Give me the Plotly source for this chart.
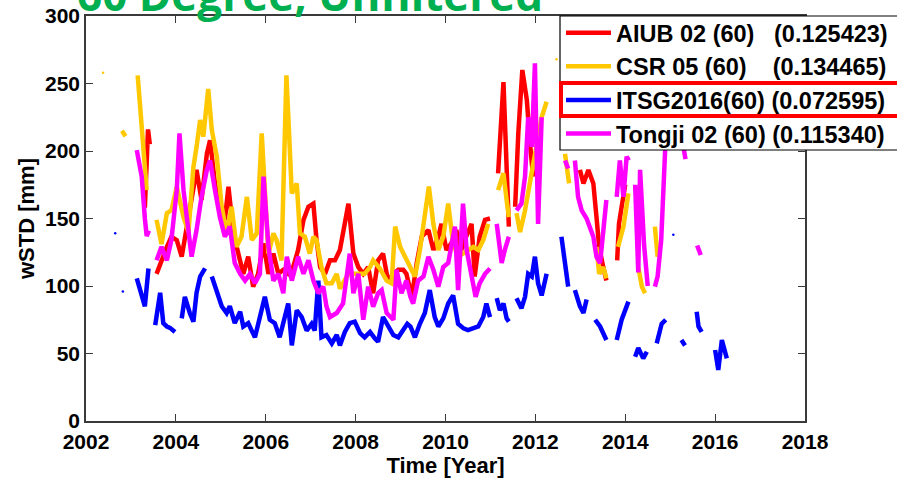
import plotly.graph_objects as go

# ---------------- data (decimal year, wSTD in mm); None marks a data gap ----------------
aiub_t = [2003.31, 2003.38, 2003.42, None,
          2003.57, 2003.68, 2003.80, 2003.90, 2004.02, 2004.13, 2004.24, 2004.35, 2004.46, 2004.57,
          2004.69, 2004.76, 2004.87, 2004.98, 2005.09, 2005.17, 2005.28, 2005.39, 2005.50, 2005.61,
          2005.72, 2005.83, 2005.95, 2006.06, 2006.17, 2006.28, 2006.39, 2006.50, 2006.61, 2006.72,
          2006.84, 2006.95, 2007.06, 2007.13, 2007.21, 2007.32, 2007.43, 2007.54, 2007.65, 2007.84,
          2007.95, 2008.06, 2008.17, 2008.28, 2008.39, 2008.50, 2008.61, 2008.72, 2008.84, 2008.95,
          2009.06, 2009.13, 2009.25, 2009.36, 2009.47, 2009.62, 2009.73, 2009.84, 2009.91, 2010.02,
          2010.13, 2010.24, 2010.35, 2010.46, 2010.58, 2010.65, 2010.76, 2010.88, 2010.99, None,
          2011.17, 2011.29, 2011.36, 2011.41, None,
          2011.55, 2011.62, 2011.71, 2011.81, 2011.88, 2011.95, None,
          2012.99, 2013.07, 2013.18, 2013.29, 2013.36, 2013.42, 2013.51, 2013.58, None,
          2013.82, 2013.86, 2013.92, 2014.00]
aiub_v = [158, 216, 205, None,
          109, 119, 129, 136.5, 134, 121.7, 144, 166, 186, 163.7,
          198, 208, 176, 158.7, 149, 173.6, 139, 124, 109, 121.7,
          99.5, 109, 131.6, 109, 124, 109, 112, 109, 114, 126.7,
          149, 158.7, 161, 134, 114, 109, 119, 119, 126.7, 161,
          124, 114, 109, 114, 94.6, 119, 124, 104, 109, 112,
          112, 109, 92, 117, 136.5, 141.5, 126.7, 136.5, 146, 126.7,
          131.6, 141.5, 126.7, 136.5, 146, 107, 136.5, 149, 150, None,
          183.5, 251, 188, 144, None,
          158.7, 213, 260, 237.8, 205.7, 181, None,
          186, 176, 186, 176, 151, 129, 114, 104, None,
          119, 146, 158.7, 175]

csr_t = [2002.80, 2002.88, None,
         2003.15, 2003.24, 2003.31, 2003.35, None,
         2003.57, 2003.68, 2003.80, 2003.90, 2004.02, 2004.17, 2004.28, 2004.39, 2004.46, 2004.54,
         2004.61, 2004.72, 2004.80, 2004.91, 2005.02, 2005.13, 2005.24, 2005.35, 2005.46, 2005.58,
         2005.69, 2005.80, 2005.91, 2005.98, 2006.06, 2006.17, 2006.24, 2006.35, 2006.46, 2006.58,
         2006.69, 2006.76, 2006.87, 2006.98, 2007.06, 2007.13, 2007.24, 2007.35, 2007.47, 2007.58,
         2007.65, 2007.84, 2008.02, 2008.20, 2008.32, 2008.39, 2008.54, 2008.69, 2008.80, 2008.88,
         2008.99, 2009.13, 2009.20, 2009.32, 2009.43, 2009.54, 2009.63, 2009.73, 2009.84, 2009.95,
         2010.06, 2010.17, 2010.28, 2010.39, 2010.50, 2010.62, 2010.73, 2010.84, 2010.95, None,
         2011.17, 2011.29, 2011.36, 2011.41, None,
         2011.58, 2011.66, 2011.77, 2011.84, 2011.95, 2012.06, 2012.14, 2012.25, None,
         2012.66, 2012.75, None,
         2013.36, 2013.42, 2013.51, 2013.58, None,
         2013.84, 2013.96, 2014.07, None,
         2014.29, 2014.37, 2014.44, None,
         2014.66, 2014.72]
csr_v = [215, 211, None,
         256, 218, 186, 171, None,
         149, 131, 154, 156, 173.6, 151, 140, 188, 203, 223,
         210.6, 246, 215.6, 195.8, 158.7, 139, 158.7, 129, 136.5, 166,
         134, 139, 213, 163.7, 124, 139, 134, 119, 256, 168.6,
         176, 139, 136.5, 124, 136.5, 134, 114, 102, 102, 109,
         98, 109, 109, 109, 114, 119, 113, 104, 102, 144,
         129, 119, 114, 107, 126.7, 151, 173.6, 146, 126.7, 136.5,
         161, 131.6, 121.7, 124, 126.7, 129, 126.7, 134, 146, None,
         171, 183.5, 163.7, 151, None,
         154, 140, 156, 171, 190, 210, 225, 236.5, None,
         198, 176, None,
         129, 109, 114, 105.6, None,
         129, 144, 168.6, None,
         114, 99.5, 94.6, None,
         144, 121.7]

itsg_t = [2003.13, 2003.20, 2003.31, 2003.39, None,
          2003.54, 2003.65, 2003.72, 2003.80, 2003.87, 2003.98, None,
          2004.13, 2004.20, 2004.31, 2004.39, 2004.46, 2004.54, 2004.65, None,
          2004.80, 2004.91, 2005.02, 2005.13, 2005.20, 2005.31, 2005.43, 2005.50, 2005.61, 2005.70,
          2005.76, 2005.87, 2005.98, 2006.09, 2006.20, 2006.31, 2006.43, 2006.50, 2006.58, 2006.69,
          2006.80, 2006.91, 2007.02, 2007.09, 2007.17, 2007.24, 2007.35, 2007.47, 2007.58, 2007.65,
          2007.76, 2007.87, 2007.98, 2008.10, 2008.20, 2008.32, 2008.43, 2008.50, 2008.61, 2008.73,
          2008.84, 2008.95, 2009.06, 2009.15, 2009.22, 2009.32, 2009.43, 2009.54, 2009.65, 2009.76,
          2009.84, 2009.95, 2010.06, 2010.17, 2010.28, 2010.40, 2010.50, 2010.62, 2010.73, 2010.84,
          2010.91, 2010.99, None,
          2011.14, 2011.21, 2011.29, 2011.36, 2011.41, None,
          2011.58, 2011.69, 2011.77, 2011.84, 2011.92, 2011.99, 2012.06, 2012.14, 2012.25, None,
          2012.58, 2012.66, 2012.73, None,
          2012.88, 2012.99, 2013.07, 2013.14, None,
          2013.33, 2013.44, 2013.58, None,
          2013.81, 2013.92, 2014.07, None,
          2014.22, 2014.29, 2014.40, 2014.48, None,
          2014.70, 2014.81, 2014.90, None,
          2015.25, 2015.33, None,
          2015.59, 2015.63, 2015.70, None,
          2016.00, 2016.07, 2016.15, 2016.26]
itsg_v = [105.7, 97, 85, 113, None,
          71, 95, 72.5, 70, 69, 66, None,
          76, 92, 80, 73.6, 95, 107, 113, None,
          107, 97, 85, 80, 85, 72.5, 81, 70, 72.5, 66,
          62, 77, 92, 75, 72.5, 62, 80, 87, 56, 82,
          77, 67, 72, 67, 104, 62, 63.7, 57.5, 63.7, 56,
          66, 72.5, 73.6, 65, 62, 66, 61, 58.7, 77, 70,
          63.7, 62, 67, 72, 70, 62, 72, 80, 97, 77,
          70, 76, 87, 93, 72, 68.6, 67.4, 68.6, 70, 77,
          87, 77, None,
          91, 82, 87, 76, 73.6, None,
          91, 83.5, 92, 109, 107, 121.7, 102, 93, 109, None,
          136.5, 117, 99.5, None,
          97, 85, 80, 90, None,
          75, 70, 60, None,
          60, 75, 88.4, None,
          47.6, 54, 46.4, 51.3, None,
          57.5, 72, 75, None,
          60, 56, None,
          81, 70, 66, None,
          52.6, 37.8, 60, 46.4]

tongji_t = [2003.13, 2003.24, 2003.31, 2003.35, 2003.40, None,
            2003.57, 2003.68, 2003.80, 2003.90, 2004.02, 2004.08, 2004.17, 2004.28, 2004.35, 2004.46,
            2004.57, 2004.69, 2004.76, 2004.87, 2004.98, 2005.09, 2005.20, 2005.31, 2005.43, 2005.54,
            2005.65, 2005.76, 2005.87, 2005.95, 2006.06, 2006.17, 2006.28, 2006.39, 2006.47, 2006.58,
            2006.72, 2006.84, 2006.95, 2007.06, 2007.17, 2007.28, 2007.35, 2007.43, 2007.58, 2007.72,
            2007.87, 2007.95, 2008.06, 2008.17, 2008.28, 2008.39, 2008.50, 2008.58, 2008.69, 2008.84,
            2008.91, 2009.02, 2009.13, 2009.22, 2009.28, 2009.39, 2009.51, 2009.62, 2009.73, 2009.84,
            2009.95, 2010.06, 2010.21, 2010.28, 2010.39, 2010.47, 2010.58, 2010.67, 2010.76, 2010.88,
            2010.99, None,
            2011.14, 2011.25, 2011.32, 2011.41, None,
            2011.58, 2011.69, 2011.77, 2011.84, 2011.92, 2011.99, 2012.06, 2012.14, None,
            2012.66, 2012.73, None,
            2012.88, 2012.95, 2013.03, 2013.14, 2013.29, 2013.36, 2013.44, 2013.51, 2013.58, None,
            2013.81, 2013.88, 2013.96, 2014.03, 2014.08, None,
            2014.22, 2014.29, 2014.33, 2014.42, 2014.50, None,
            2014.66, 2014.72, 2014.80, 2014.86, 2014.92, None,
            2015.30, 2015.34, None,
            2015.60, 2015.68]
tongji_v = [200.7, 181, 150, 137, 141, None,
            119, 129, 119, 134, 171, 213, 171, 144, 121.7, 141.5,
            166, 186, 193, 171, 151, 136.5, 144, 117, 109, 104,
            109, 102, 109, 181, 129, 104, 109, 94.6, 121.7, 104,
            121.7, 109, 119, 104, 94.6, 99.5, 85, 77, 80, 87,
            124, 94.6, 109, 75, 99.5, 84.7, 94.6, 97, 80, 75,
            112, 94.6, 104, 92, 87, 104, 107, 121.7, 112, 99.5,
            114, 117, 144, 97, 161, 126.7, 107, 92, 102, 109,
            113, None,
            146, 117, 126.7, 136.5, None,
            156, 161, 181, 225, 203, 265, 146, 225, None,
            193, 187, None,
            193, 166, 156, 150, 136.5, 121.7, 117, 141.5, 163.7, None,
            166, 193, 166, 195.8, 193, None,
            175, 110, 186, 130, 100, None,
            99.5, 107, 134, 178.5, 225, None,
            202, 194, None,
            130, 123]

# single isolated epochs (no neighbouring month to connect to)
csr_pts_t = [2002.38, 2012.47]
csr_pts_v = [258, 268]
itsg_pts_t = [2002.65, 2002.82, 2015.07]
itsg_pts_v = [139, 96, 138]

names = ["AIUB 02 (60)\u00a0\u00a0\u00a0(0.125423)",
         "CSR 05 (60)\u00a0\u00a0\u00a0\u00a0(0.134465)",
         "ITSG2016(60) (0.072595)",
         "Tongji 02 (60) (0.115340)"]
colors = ["#ff0000", "#ffc800", "#0000ff", "#ff00ff"]

x_ticks = list(range(2002, 2019, 2))
y_ticks = list(range(0, 301, 50))

# ---------------- figure ----------------
W, H = 897, 481
ML, MR, MT, MB = 86, 92, 16, 60
PW, PH = W - ML - MR, H - MT - MB


def px_x(p):
    return (p - ML) / PW


def px_y(p):
    return (H - MB - p) / PH


FONT = "Liberation Sans, Arial, sans-serif"
fig = go.Figure()

series = [(aiub_t, aiub_v), (csr_t, csr_v), (itsg_t, itsg_v), (tongji_t, tongji_v)]
for (t, v), name, col in zip(series, names, colors):
    fig.add_trace(go.Scatter(x=t, y=v, mode="lines", name=name,
                             line=dict(color=col, width=4.5), connectgaps=False))

fig.add_trace(go.Scatter(x=csr_pts_t, y=csr_pts_v, mode="markers", showlegend=False,
                         marker=dict(color=colors[1], size=2.5)))
fig.add_trace(go.Scatter(x=itsg_pts_t, y=itsg_pts_v, mode="markers", showlegend=False,
                         marker=dict(color=colors[2], size=2.5)))

axis_common = dict(showgrid=False, zeroline=False, showline=True, linecolor="#3a3a3a",
                   linewidth=1.5, mirror="ticks", ticks="inside", ticklen=7, tickwidth=1,
                   tickcolor="#3a3a3a",
                   tickfont=dict(family=FONT, size=21, color="black", weight="bold"))

fig.update_xaxes(range=[2002, 2018], tickvals=x_ticks, ticktext=[str(v) for v in x_ticks],
                 ticklabelstandoff=1,
                 title=dict(text="Time [Year]", standoff=1,
                            font=dict(family=FONT, size=22, color="black", weight="bold")),
                 **axis_common)
fig.update_yaxes(range=[0, 300], tickvals=y_ticks,
                 title=dict(text="wSTD [mm]", standoff=4,
                            font=dict(family=FONT, size=22, color="black", weight="bold")),
                 **axis_common)

# legend frame and highlight box
leg_l, leg_t, leg_r, leg_b = 560, 16, 910, 150
fig.add_shape(type="rect", xref="paper", yref="paper", layer="above",
              x0=px_x(leg_l), x1=px_x(leg_r), y0=px_y(leg_b), y1=px_y(leg_t),
              fillcolor="white", line=dict(color="black", width=1.2))
fig.add_shape(type="rect", xref="paper", yref="paper", layer="above",
              x0=px_x(561), x1=px_x(910), y0=px_y(116), y1=px_y(83),
              fillcolor="rgba(0,0,0,0)", line=dict(color="#ff0000", width=4))

fig.update_layout(
    width=W, height=H,
    margin=dict(l=ML, r=MR, t=MT, b=MB, autoexpand=False),
    plot_bgcolor="white", paper_bgcolor="white",
    showlegend=True,
    legend=dict(x=px_x(leg_l + 1), y=px_y(leg_t - 5), xanchor="left", yanchor="top",
                bgcolor="rgba(0,0,0,0)", borderwidth=0, itemwidth=45,
                font=dict(family=FONT, size=23.5, color="black", weight="bold"),
                tracegroupgap=0),
    annotations=[dict(text="60 Degree, Unfiltered", xref="paper", yref="paper",
                      x=px_x(75), y=px_y(26), xanchor="left", yanchor="bottom",
                      showarrow=False,
                      font=dict(family="Open Sans, sans-serif", size=44, color="#00b050",
                                weight="bold"))],
)

fig.write_html("out.html")
